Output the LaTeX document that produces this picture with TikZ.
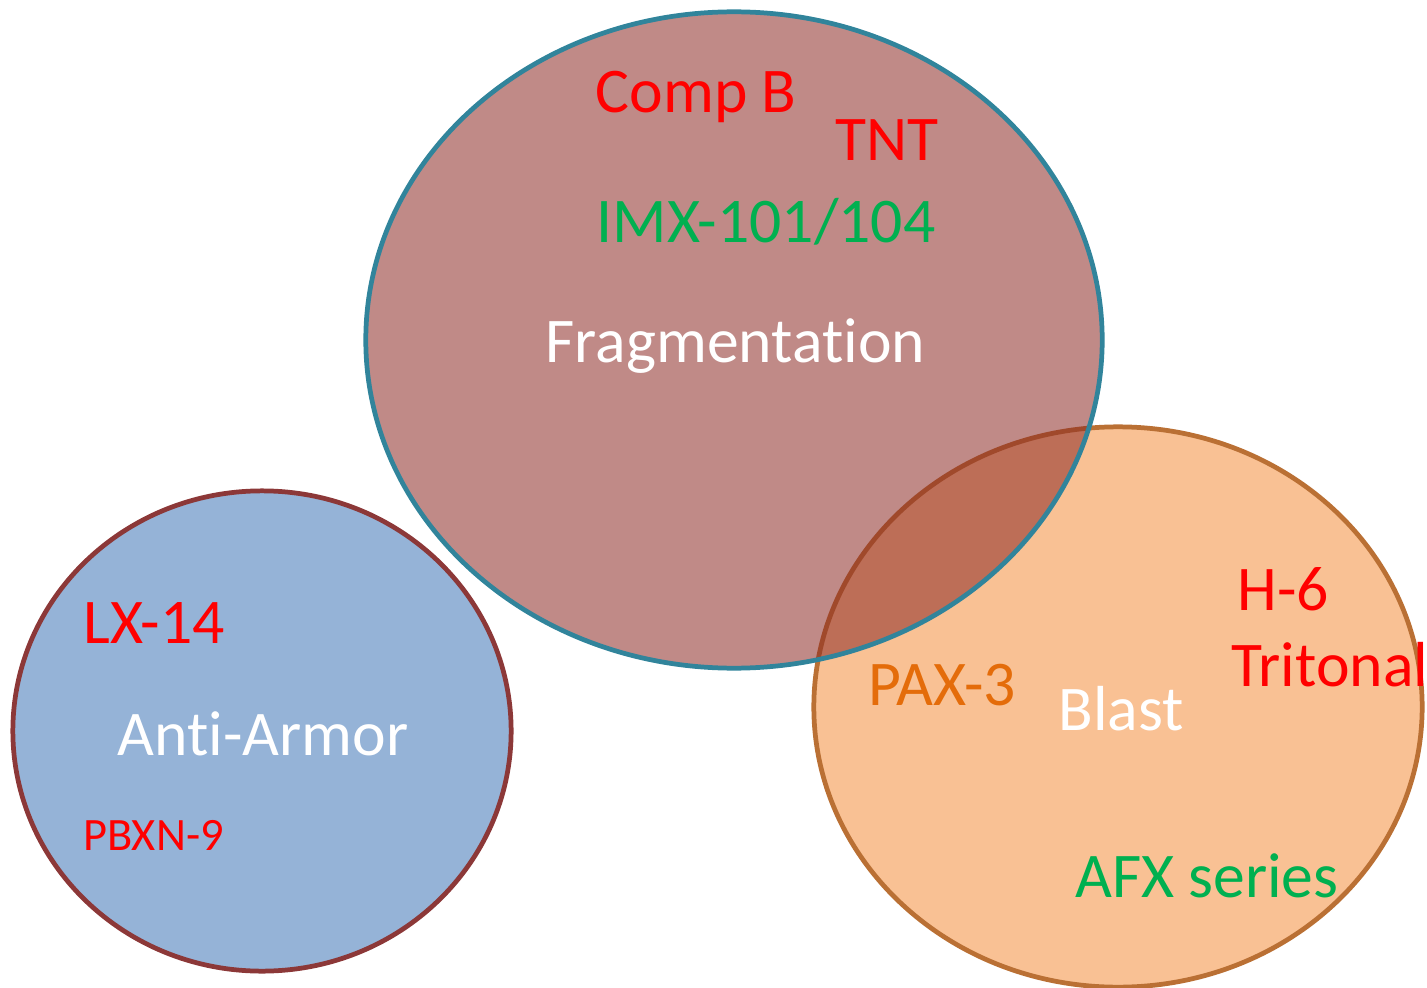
\documentclass[tikz,border=0pt]{standalone}
\usepackage{fontspec}
\setmainfont{Carlito}[RawFeature={-liga;-clig;-dlig}]
\usetikzlibrary{shapes.geometric}
\definecolor{fragfill}{RGB}{140,42,37}
\definecolor{fragline}{RGB}{49,132,155}
\definecolor{armfill}{RGB}{149,179,215}
\definecolor{armline}{RGB}{140,56,56}
\definecolor{blastfill}{RGB}{249,193,148}
\definecolor{blastline}{RGB}{186,112,52}
\definecolor{txtred}{RGB}{255,0,0}
\definecolor{txtgreen}{RGB}{0,176,80}
\definecolor{txtorange}{RGB}{228,108,10}
\tikzset{
  blob/.style={ellipse, draw, line width=1.35pt, inner sep=0pt},
  lbl/.style={anchor=base west, inner sep=0pt, font=\fontsize{18.1pt}{20pt}\selectfont},
  smalllbl/.style={anchor=base west, inner sep=0pt, font=\fontsize{13.2pt}{15pt}\selectfont}
}
\begin{document}
\begin{tikzpicture}[x=0.01cm,y=-0.01cm]
\useasboundingbox (0,0) rectangle (1427,988);
\node[blob, draw=armline, fill=armfill, minimum width=4.98cm, minimum height=4.80cm] (armor) at (262,731) {};
\node[blob, draw=blastline, fill=blastfill, minimum width=6.08cm, minimum height=5.60cm] (blast) at (1118,707) {};
\node[blob, draw=fragline, fill=fragfill, fill opacity=0.55, minimum width=7.36cm, minimum height=6.56cm] (frag) at (734,340) {};
% Fragmentation texts
\node[lbl, text=txtred] (compb) at (595,113) {Comp B};
\node[lbl, text=txtred] (tnt) at (835,161) {TNT};
\node[lbl, text=txtgreen] (imx) at (596,242) {IMX-101/104};
\node[lbl, text=white] (fraglbl) at (545,362) {Fragmentation};
% Anti-Armor texts
\node[lbl, text=txtred] (lx) at (83,643) {LX-14};
\node[lbl, text=white] (armlbl) at (117,755) {Anti-Armor};
\node[smalllbl, text=txtred] (pbxn) at (83,850) {PBXN-9};
% Blast texts
\node[lbl, text=txtorange] (pax) at (868,705) {PAX-3};
\node[lbl, text=white] (blastlbl) at (1058,730) {Blast};
\node[lbl, text=txtred] (h6) at (1237,610) {H-6};
\node[lbl, text=txtred] (trit) at (1231,686) {Tritonal};
\node[lbl, text=txtgreen] (afx) at (1075,897) {AFX series};
\end{tikzpicture}
\end{document}
